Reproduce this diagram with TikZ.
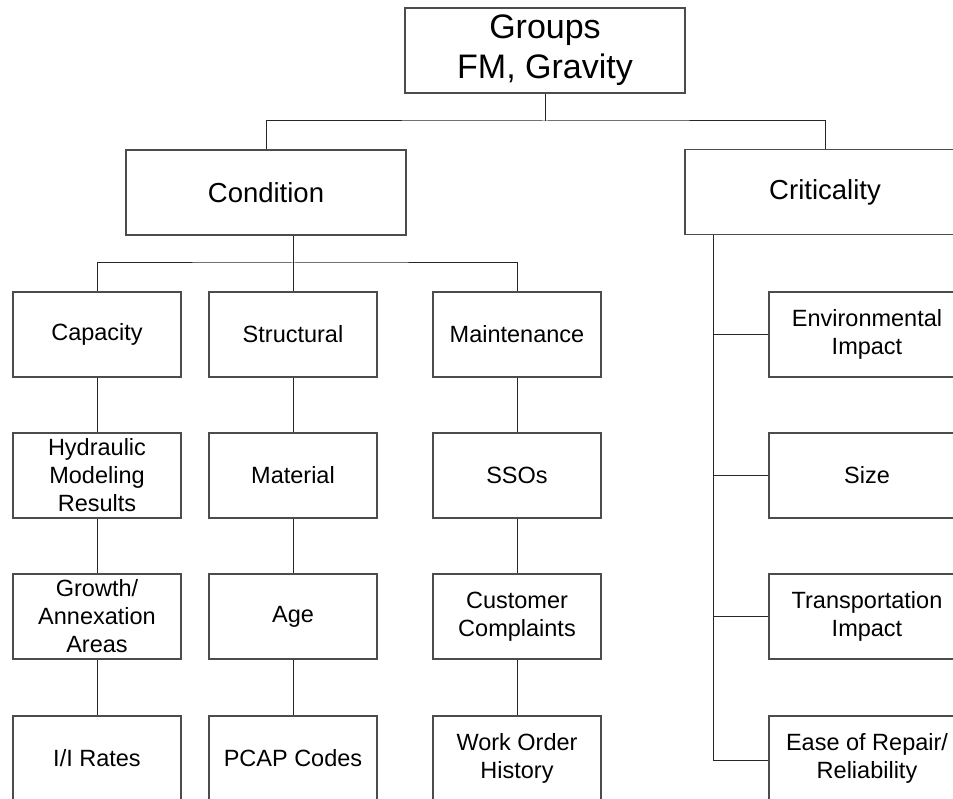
\documentclass[tikz,border=0pt]{standalone}
\usepackage{fontspec}
\setmainfont{Liberation Sans}
\begin{document}
\begin{tikzpicture}[x=1pt,y=-1pt,
  box/.style={draw=black!70, line width=1.2pt, rectangle, inner sep=0pt,
              align=center, text=black},
  bigbox/.style={box, minimum width=280pt, minimum height=85pt,
                 font=\fontsize{27.5}{33}\selectfont},
  leaf/.style={box, minimum width=168pt, minimum height=85pt,
               font=\fontsize{23.5}{28}\selectfont},
  sidebox/.style={box, minimum width=196pt, minimum height=85pt,
                  font=\fontsize{23.5}{28}\selectfont},
  link/.style={draw=black!85, line width=1pt}]
\clip (0,0) rectangle (953,799);
\fill[white] (0,0) rectangle (953,799);

% top levels
\node[bigbox, font=\fontsize{34}{40}\selectfont] (groups) at (545,50.5) {Groups\\FM, Gravity};
\node[bigbox] (cond) at (266,192.5) {Condition};
\node[bigbox] (crit) at (825,192) {Criticality};

% condition columns
\node[leaf] (cap)    at (97,334.5)  {Capacity};
\node[leaf] (hyd)    at (97,475.5)  {Hydraulic\\Modeling\\Results};
\node[leaf] (growth) at (97,616.5)  {Growth/\\Annexation\\Areas};
\node[leaf] (ii)     at (97,758.5)  {I/I Rates};

\node[leaf] (struct) at (293,334.5) {Structural};
\node[leaf] (mat)    at (293,475.5) {Material};
\node[leaf] (age)    at (293,616.5) {Age};
\node[leaf] (pcap)   at (293,758.5) {PCAP Codes};

\node[leaf] (maint)  at (517,334.5) {Maintenance};
\node[leaf] (sso)    at (517,475.5) {SSOs};
\node[leaf] (cust)   at (517,616.5) {Customer\\Complaints};
\node[leaf] (work)   at (517,758.5) {Work Order\\History};

% criticality factors
\node[sidebox] (env)   at (867,334.5) {Environmental\\Impact};
\node[sidebox] (size)  at (867,475.5) {Size};
\node[sidebox] (trans) at (867,616.5) {Transportation\\Impact};
\node[sidebox] (ease)  at (867,758.5) {Ease of Repair/\\Reliability};

% connectors
\coordinate (j1) at (545,121);
\coordinate (j2) at (293,263);
\coordinate (cv) at (713,760);

\draw[link] (groups.south) -- (j1);
\draw[link] (cond.north) |- (j1) -| (crit.north);

\draw[link] (struct.north |- cond.south) -- (struct.north);
\draw[link] (cap.north) |- (j2) -| (maint.north);

\draw[link] (cap.south) -- (hyd.north);
\draw[link] (hyd.south) -- (growth.north);
\draw[link] (growth.south) -- (ii.north);
\draw[link] (struct.south) -- (mat.north);
\draw[link] (mat.south) -- (age.north);
\draw[link] (age.south) -- (pcap.north);
\draw[link] (maint.south) -- (sso.north);
\draw[link] (sso.south) -- (cust.north);
\draw[link] (cust.south) -- (work.north);

\draw[link] (crit.south -| cv) -- (cv);
\draw[link] (env.west -| cv) -- (env.west);
\draw[link] (size.west -| cv) -- (size.west);
\draw[link] (trans.west -| cv) -- (trans.west);
\draw[link] (cv) -- (ease.west |- cv);
\end{tikzpicture}
\end{document}
